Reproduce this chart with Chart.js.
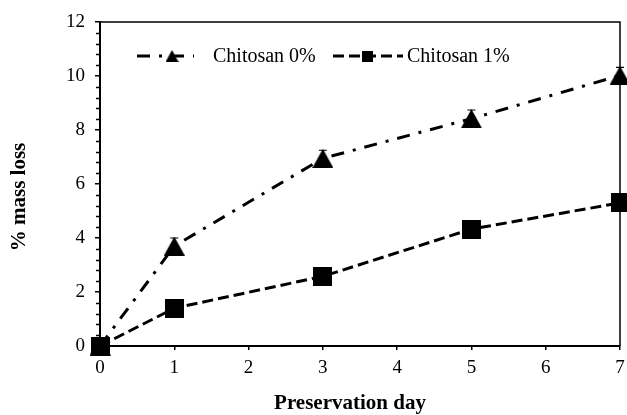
<!DOCTYPE html>
<html>
<head>
<meta charset="utf-8">
<script src="https://cdn.jsdelivr.net/npm/chart.js@4/dist/chart.umd.min.js"></script>
<style>
  html, body { margin: 0; padding: 0; background: #fff; }
  #wrap { width: 627px; height: 415px; }
</style>
</head>
<body>
<div id="wrap"><canvas id="chart" width="627" height="415"></canvas></div>
<script>
// values
const days = [0, 1, 3, 5, 7];
const chitosan0 = [0, 3.7, 6.95, 8.42, 10.02];
const chitosan1 = [0, 1.4, 2.58, 4.33, 5.3];
const err0 = [0, 0.3, 0.3, 0.32, 0.3];
const err1 = [0, 0.15, 0.2, 0.2, 0.2];
const seriesNames = ['Chitosan 0%', 'Chitosan 1%'];
const xTicks = [0, 1, 2, 3, 4, 5, 6, 7];
const yTicks = [0, 2, 4, 6, 8, 10, 12];
const xTitle = 'Preservation day';
const yTitle = '% mass loss';

const FONT = '"Liberation Serif", "Times New Roman", serif';

// marker images, centred on the data point like the original
function triangleImg(w, h) {
    const c = document.createElement('canvas');
    c.width = w; c.height = h;
    const g = c.getContext('2d');
    g.fillStyle = '#000';
    g.beginPath();
    g.moveTo(w / 2, 0);
    g.lineTo(w, h);
    g.lineTo(0, h);
    g.closePath();
    g.fill();
    return c;
}
function squareImg(s) {
    const c = document.createElement('canvas');
    c.width = s; c.height = s;
    const g = c.getContext('2d');
    g.fillStyle = '#000';
    g.fillRect(0, 0, s, s);
    return c;
}

const triBig = triangleImg(21, 19);
const sqBig = squareImg(19);
const triSmall = triangleImg(13, 12);
const sqSmall = squareImg(11);

const dash0 = [13, 9, 3, 9];
const dash1 = [11, 5];

// minor ticks on the y axis, box around the plot, axis titles
const framePlugin = {
    id: 'frame',
    afterDraw(chart) {
        const { ctx, chartArea } = chart;
        const y = chart.scales.y;
        ctx.save();
        ctx.strokeStyle = '#000';
        ctx.lineWidth = 1.5;
        ctx.beginPath();
        ctx.moveTo(chartArea.left, chartArea.top);
        ctx.lineTo(chartArea.right, chartArea.top);
        ctx.lineTo(chartArea.right, chartArea.bottom);
        ctx.stroke();
        for (let i = 0; i <= 30; i++) {
            const v = i * 0.4;
            if (Math.abs(v / 2 - Math.round(v / 2)) < 1e-6) continue;
            const py = Math.round(y.getPixelForValue(v)) + 0.5;
            ctx.beginPath();
            ctx.moveTo(chartArea.left - 4, py);
            ctx.lineTo(chartArea.left, py);
            ctx.stroke();
        }

        ctx.fillStyle = '#000';
        ctx.font = 'bold 21px ' + FONT;
        ctx.textAlign = 'center';
        ctx.textBaseline = 'middle';
        ctx.fillText(xTitle, 350, 404);
        ctx.translate(20, 197);
        ctx.rotate(-Math.PI / 2);
        ctx.fillText(yTitle, 0, 0);
        ctx.restore();
    }
};

// error bars for both series
const errorPlugin = {
    id: 'errors',
    beforeDatasetsDraw(chart) {
        const { ctx } = chart;
        const xs = chart.scales.x, ys = chart.scales.y;
        const sets = [[chitosan0, err0], [chitosan1, err1]];
        ctx.save();
        ctx.strokeStyle = '#000';
        ctx.lineWidth = 1.2;
        sets.forEach(([vals, errs]) => {
            vals.forEach((v, i) => {
                if (!errs[i]) return;
                const px = xs.getPixelForValue(days[i]);
                const top = ys.getPixelForValue(v + errs[i]);
                const bot = ys.getPixelForValue(Math.max(0, v - errs[i]));
                ctx.beginPath();
                ctx.moveTo(px, top); ctx.lineTo(px, bot);
                ctx.moveTo(px - 4, top); ctx.lineTo(px + 4, top);
                ctx.moveTo(px - 4, bot); ctx.lineTo(px + 4, bot);
                ctx.stroke();
            });
        });
        ctx.restore();
    }
};

// legend inside the plot, line sample + marker + name
const legendPlugin = {
    id: 'innerLegend',
    afterDraw(chart) {
        const { ctx } = chart;
        const cy = 56;
        const items = [
            { x1: 137, x2: 194, mx: 172, dash: dash0, img: triSmall, tx: 213 },
            { x1: 333, x2: 403, mx: 367, dash: dash1, img: sqSmall, tx: 407 }
        ];
        ctx.save();
        items.forEach((it, i) => {
            ctx.strokeStyle = '#000';
            ctx.lineWidth = 3;
            ctx.setLineDash(it.dash);
            ctx.beginPath();
            ctx.moveTo(it.x1, cy);
            ctx.lineTo(it.x2, cy);
            ctx.stroke();
            ctx.setLineDash([]);
            ctx.drawImage(it.img, it.mx - it.img.width / 2, cy - it.img.height / 2);
            ctx.fillStyle = '#000';
            ctx.font = '20px ' + FONT;
            ctx.textBaseline = 'middle';
            ctx.textAlign = 'left';
            ctx.fillText(seriesNames[i], it.tx, cy + 1);
        });
        ctx.restore();
    }
};

new Chart(document.getElementById('chart'), {
    type: 'scatter',
    data: {
        datasets: [{
            label: seriesNames[0],
            data: days.map((d, i) => ({ x: d, y: chitosan0[i] })),
            showLine: true,
            borderColor: '#000',
            borderWidth: 3,
            borderDash: dash0,
            pointStyle: triBig,
            backgroundColor: '#000'
        }, {
            label: seriesNames[1],
            data: days.map((d, i) => ({ x: d, y: chitosan1[i] })),
            showLine: true,
            borderColor: '#000',
            borderWidth: 3,
            borderDash: dash1,
            pointStyle: sqBig,
            backgroundColor: '#000'
        }]
    },
    options: {
        responsive: false,
        animation: false,
        clip: false,
        layout: { padding: { top: 22, right: 5, left: 0, bottom: 0 } },
        plugins: {
            legend: { display: false },
            tooltip: { enabled: false }
        },
        scales: {
            x: {
                type: 'linear',
                min: 0, max: 7,
                afterBuildTicks: axis => { axis.ticks = xTicks.map(v => ({ value: v })); },
                afterFit: axis => {
                    axis.height = 69;
                    axis.paddingLeft = 0;
                    axis.paddingRight = 0;
                },
                grid: { drawOnChartArea: false, drawTicks: true, tickLength: 4, color: '#000', lineWidth: 1.5 },
                border: { display: true, color: '#000', width: 2 },
                ticks: { color: '#000', padding: 7, font: { family: FONT, size: 19 }, maxRotation: 0 }
            },
            y: {
                min: 0, max: 12,
                afterBuildTicks: axis => { axis.ticks = yTicks.map(v => ({ value: v })); },
                afterFit: axis => {
                    axis.width = 100;
                    axis.paddingTop = 0;
                    axis.paddingBottom = 0;
                },
                grid: { drawOnChartArea: false, drawTicks: true, tickLength: 5, color: '#000', lineWidth: 1.5 },
                border: { display: true, color: '#000', width: 2 },
                ticks: { color: '#000', padding: 10, font: { family: FONT, size: 19 } }
            }
        }
    },
    plugins: [framePlugin, errorPlugin, legendPlugin]
});
</script>
</body>
</html>
